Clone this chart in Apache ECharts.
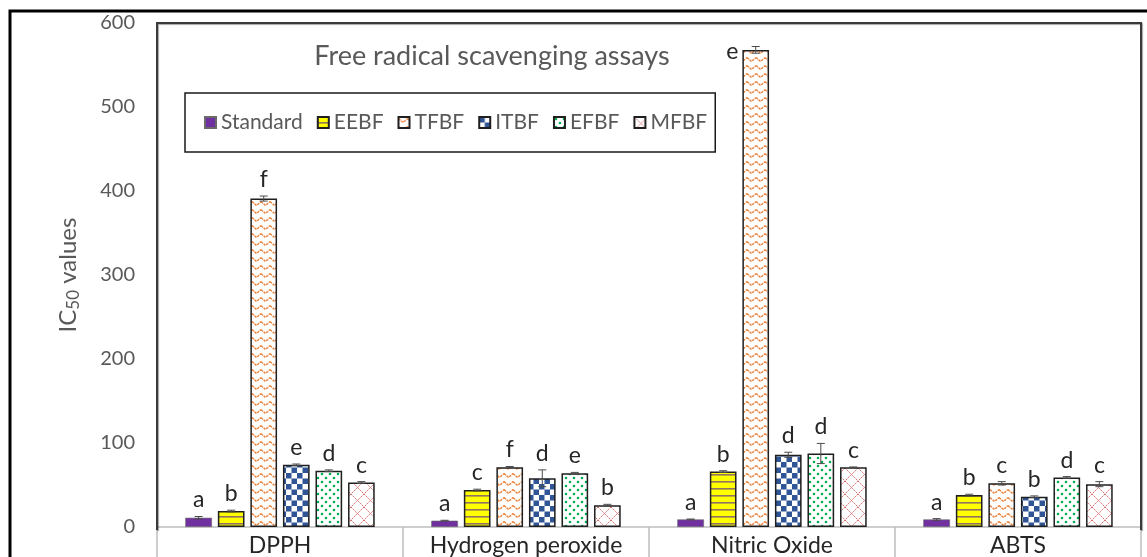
<!DOCTYPE html>
<html>
<head>
<meta charset="utf-8">
<script src="https://cdn.jsdelivr.net/npm/echarts@6/dist/echarts.min.js"></script>
<style>
  html, body { margin: 0; padding: 0; background: #ffffff; }
  #chart { width: 1147px; height: 557px; }
</style>
</head>
<body>
<div id="chart"></div>
<script>
// IC50 values for each free radical assay
const categories = ['DPPH', 'Hydrogen peroxide', 'Nitric Oxide', 'ABTS'];
const seriesNames = ['Standard', 'EEBF', 'TFBF', 'ITBF', 'EFBF', 'MFBF'];

const standardValues = [11, 7.5, 9, 9];
const eebfValues     = [19, 44, 66, 38];
const tfbfValues     = [391, 71, 568, 52];
const itbfValues     = [74, 58, 86, 36];
const efbfValues     = [67, 64, 87.5, 59];
const mfbfValues     = [53, 26, 71, 51];

// standard deviations (error bars)
const standardErr = [1.5, 0.5, 0.5, 1];
const eebfErr     = [1, 1, 1, 1];
const tfbfErr     = [3, 1, 4, 2];
const itbfErr     = [1, 10, 3, 1];
const efbfErr     = [1, 1, 12, 1];
const mfbfErr     = [1, 1, 0.5, 3];

// significance letters
const standardLetters = ['a', 'a', 'a', 'a'];
const eebfLetters     = ['b', 'c', 'b', 'b'];
const tfbfLetters     = ['f', 'f', 'e', 'c'];
const itbfLetters     = ['e', 'd', 'd', 'b'];
const efbfLetters     = ['d', 'e', 'd', 'd'];
const mfbfLetters     = ['c', 'b', 'c', 'c'];

// value axis ticks
const yMin = 0, yMax = 600, yStep = 100;

const values  = [standardValues, eebfValues, tfbfValues, itbfValues, efbfValues, mfbfValues];
const errors  = [standardErr, eebfErr, tfbfErr, itbfErr, efbfErr, mfbfErr];
const letters = [standardLetters, eebfLetters, tfbfLetters, itbfLetters, efbfLetters, mfbfLetters];

const FONT = 'Lato, "Open Sans", sans-serif';
const GRID = { left: 157, top: 23, right: 6, bottom: 27 };
const CAT_GAP = 0.23;
const BAR_GAP = 0.22;

// ---- fill patterns ----
function tile(w, h, draw) {
  const c = document.createElement('canvas');
  c.width = w; c.height = h;
  const ctx = c.getContext('2d');
  draw(ctx, w, h);
  return { image: c, repeat: 'repeat' };
}

const stripes = tile(4, 7, (ctx, w, h) => {
  ctx.fillStyle = '#ffff00'; ctx.fillRect(0, 0, w, h);
  ctx.fillStyle = '#8f7461'; ctx.fillRect(0, 5, w, 1.6);
});

const zigzag = tile(9, 8, (ctx, w, h) => {
  ctx.fillStyle = '#ffffff'; ctx.fillRect(0, 0, w, h);
  ctx.strokeStyle = '#ed7d31'; ctx.lineWidth = 1.4;
  ctx.setLineDash([2.5, 1]);
  ctx.beginPath();
  ctx.moveTo(0, 1.5); ctx.lineTo(w / 2, 5.5); ctx.lineTo(w, 1.5);
  ctx.stroke();
});

const checker = tile(11, 11, (ctx, w, h) => {
  ctx.fillStyle = '#ffffff'; ctx.fillRect(0, 0, w, h);
  ctx.fillStyle = '#2f5597';
  ctx.fillRect(0, 0, 5.5, 5.5); ctx.fillRect(5.5, 5.5, 5.5, 5.5);
});

const dots = tile(8, 8, (ctx, w, h) => {
  ctx.fillStyle = '#ffffff'; ctx.fillRect(0, 0, w, h);
  ctx.fillStyle = '#00b050';
  [[2, 2], [6, 6]].forEach(([x, y]) => {
    ctx.beginPath(); ctx.arc(x, y, 1.3, 0, Math.PI * 2); ctx.fill();
  });
});

const lattice = tile(13, 13, (ctx, w, h) => {
  ctx.fillStyle = '#ffffff'; ctx.fillRect(0, 0, w, h);
  ctx.strokeStyle = '#d9706e'; ctx.lineWidth = 1;
  ctx.setLineDash([2, 1]);
  ctx.beginPath();
  ctx.moveTo(0, 0); ctx.lineTo(w, h);
  ctx.moveTo(w, 0); ctx.lineTo(0, h);
  ctx.stroke();
});

const fills = ['#7030a0', stripes, zigzag, checker, dots, lattice];
const borders = ['#6a6a6a', '#1f1f1f', '#1f1f1f', '#1f1f1f', '#1f1f1f', '#1f1f1f'];
const borderWidths = [0.6, 1.5, 1.5, 1.5, 1.5, 1.5];

const barSeries = seriesNames.map((name, i) => ({
  name,
  type: 'bar',
  data: values[i],
  barGap: (BAR_GAP * 100) + '%',
  barCategoryGap: (CAT_GAP * 100) + '%',
  itemStyle: { color: fills[i], borderColor: borders[i], borderWidth: borderWidths[i] },
  z: 2
}));

// error bars and letters drawn on top of the bars
const errRows = [];
values.forEach((vals, s) => vals.forEach((v, c) => errRows.push([c, v, errors[s][c], s])));

const errorSeries = {
  type: 'custom',
  data: errRows,
  encode: { x: 0, y: 1 },
  z: 5,
  clip: false,
  silent: true,
  renderItem(params, api) {
    const cat = api.value(0), val = api.value(1), err = api.value(2), s = api.value(3);
    const center = api.coord([cat, val]);
    const band = api.size([1, 0])[0];
    const avail = band * (1 - CAT_GAP);
    const n = seriesNames.length;
    const bw = avail / (n + (n - 1) * BAR_GAP);
    const cx = center[0] - avail / 2 + s * bw * (1 + BAR_GAP) + bw / 2;
    const top = center[1];
    const hi = api.coord([cat, val + err])[1];
    const lo = api.coord([cat, val - err])[1];
    const cap = 4;
    const ls = { stroke: '#4a4a4a', lineWidth: 1 };
    const letter = letters[s][cat];
    let label;
    if (hi - 28 < GRID.top) {
      label = { text: letter, x: cx - bw / 2 - 4, y: top + 2, align: 'right', verticalAlign: 'middle' };
    } else {
      label = { text: letter, x: cx, y: hi - 5, align: 'center', verticalAlign: 'bottom' };
    }
    label.fontSize = 23; label.fontFamily = FONT; label.fill = '#262626';
    return {
      type: 'group',
      children: [
        { type: 'line', shape: { x1: cx, y1: hi, x2: cx, y2: lo }, style: ls },
        { type: 'line', shape: { x1: cx - cap, y1: hi, x2: cx + cap, y2: hi }, style: ls },
        { type: 'line', shape: { x1: cx - cap, y1: lo, x2: cx + cap, y2: lo }, style: ls },
        { type: 'text', style: label }
      ]
    };
  }
};

const chart = echarts.init(document.getElementById('chart'), null, { renderer: 'canvas' });
const W = 1147, H = 557;
const plotRight = W - GRID.right, plotBottom = H - GRID.bottom;

chart.setOption({
  animation: false,
  backgroundColor: '#ffffff',
  title: {
    text: 'Free radical scavenging assays',
    left: 487,
    top: 38,
    textAlign: 'center',
    textStyle: { fontSize: 27, fontWeight: 'normal', color: '#595959', fontFamily: FONT }
  },
  legend: {
    data: seriesNames,
    left: 185,
    top: 93,
    padding: [19, 8, 19, 19],
    borderColor: '#1a1a1a',
    borderWidth: 1.5,
    icon: 'rect',
    itemWidth: 11,
    itemHeight: 11,
    itemGap: 14,
    textStyle: { fontSize: 21, color: '#595959', fontFamily: FONT }
  },
  grid: { left: GRID.left, top: GRID.top, right: GRID.right, bottom: GRID.bottom, containLabel: false },
  xAxis: {
    type: 'category',
    data: categories,
    axisLine: { lineStyle: { color: '#bfbfbf', width: 1.5 } },
    axisTick: { show: true, length: 32, lineStyle: { color: '#bfbfbf', width: 1.5 } },
    axisLabel: { interval: 0, fontSize: 23, color: '#262626', margin: 7, fontFamily: FONT }
  },
  yAxis: {
    type: 'value',
    min: yMin,
    max: yMax,
    interval: yStep,
    name: 'IC{sub|50} values',
    nameLocation: 'middle',
    nameGap: 75,
    nameRotate: 90,
    nameTextStyle: {
      fontSize: 24, color: '#595959', fontFamily: FONT,
      rich: { sub: { fontSize: 17, color: '#595959', fontFamily: FONT, padding: [11, 0, 0, 0] } }
    },
    axisLine: { show: false },
    axisTick: { show: false },
    splitLine: { show: false },
    axisLabel: { fontSize: 20, color: '#595959', margin: 22, fontFamily: FONT }
  },
  graphic: [
    {
      type: 'rect', silent: true, z: 100,
      shape: { x: 10, y: 11, width: W + 40, height: H + 40 },
      style: { fill: 'none', stroke: '#000000', lineWidth: 3 }
    },
    {
      type: 'polyline', silent: true, z: 100,
      shape: { points: [[GRID.left, plotBottom], [GRID.left, GRID.top], [plotRight, GRID.top], [plotRight, plotBottom]] },
      style: { fill: 'none', stroke: '#3a3a3a', lineWidth: 2, shadowColor: 'rgba(0,0,0,0.35)', shadowOffsetX: 1, shadowOffsetY: 1, shadowBlur: 1 }
    }
  ],
  series: [...barSeries, errorSeries]
});
</script>
</body>
</html>
